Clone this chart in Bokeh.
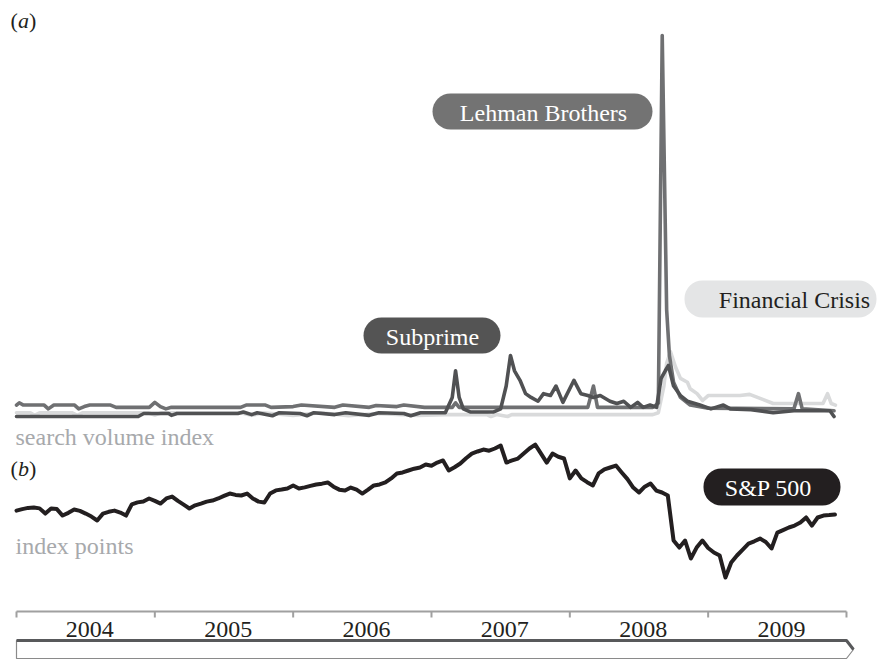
import numpy as np
from bokeh.plotting import figure
from bokeh.models import Range1d
from bokeh.core.properties import value
from bokeh.embed import file_html
from bokeh.resources import INLINE

# ---------------------------------------------------------------- data
# Weekly search volume index (Google), sampled at the dates where the trace changes
lehman_t = [2004.00, 2004.02, 2004.05, 2004.20, 2004.23, 2004.27, 2004.42, 2004.45, 2004.49,
            2004.53, 2004.68, 2004.72, 2004.96, 2005.00, 2005.04, 2005.08, 2005.12, 2005.62,
            2005.66, 2005.80, 2005.84, 2006.00, 2006.06, 2006.30, 2006.36, 2006.55, 2006.60,
            2006.75, 2006.80, 2006.95, 2007.15, 2007.174, 2007.20, 2008.13, 2008.171, 2008.20,
            2008.60, 2008.64, 2008.668, 2008.70, 2008.72, 2008.75, 2008.80, 2008.87, 2009.00,
            2009.62, 2009.653, 2009.68, 2009.91]
lehman_v = [3.0, 3.6, 3.0, 3.0, 2.0, 3.0, 3.0, 2.0, 2.6,
            3.0, 3.0, 2.4, 2.4, 3.7, 2.6, 2.0, 2.4, 2.4,
            3.0, 3.0, 2.4, 2.6, 3.0, 2.4, 3.0, 2.4, 2.9,
            2.6, 3.0, 2.4, 2.4, 3.6, 2.4, 2.4, 8.0, 2.4,
            2.4, 3.5, 100.0, 28.0, 16.0, 9.0, 5.0, 3.0, 2.2,
            2.0, 6.0, 2.0, 1.5]

subprime_t = [2004.00, 2004.88, 2004.92, 2005.10, 2005.12, 2005.16, 2005.60, 2005.64, 2005.70,
              2005.74, 2005.85, 2005.90, 2006.05, 2006.10, 2006.15, 2006.30, 2006.38, 2006.55,
              2006.62, 2006.80, 2006.85, 2006.92, 2007.10, 2007.15, 2007.174, 2007.20, 2007.23,
              2007.28, 2007.45, 2007.50, 2007.54, 2007.571, 2007.60, 2007.64, 2007.68, 2007.72,
              2007.77, 2007.81, 2007.86, 2007.90, 2007.95, 2008.03, 2008.08, 2008.13, 2008.17,
              2008.22, 2008.29, 2008.34, 2008.39, 2008.44, 2008.49, 2008.53, 2008.58, 2008.627,
              2008.66, 2008.69, 2008.713, 2008.75, 2008.80, 2008.85, 2008.94, 2009.02, 2009.11,
              2009.16, 2009.31, 2009.47, 2009.62, 2009.88, 2009.91]
subprime_v = [0.0, 0.0, 0.8, 0.8, 0.3, 0.8, 0.8, 1.2, 0.5,
              1.0, 0.2, 1.0, 0.8, 0.2, 1.0, 0.5, 1.0, 0.3,
              1.0, 0.8, 0.2, 1.0, 1.0, 5.0, 12.0, 5.0, 2.0,
              1.2, 1.2, 2.0, 8.0, 16.0, 12.0, 9.5, 6.0, 5.0,
              4.0, 6.0, 5.5, 8.0, 3.7, 9.5, 6.0, 5.5, 5.0,
              5.5, 4.0, 3.4, 4.0, 2.4, 3.7, 2.4, 3.0, 2.4,
              10.0, 12.0, 13.4, 8.0, 5.5, 4.0, 3.0, 2.0, 3.0,
              2.0, 1.8, 1.0, 1.5, 1.5, 0.0]

crisis_t = [2004.00, 2004.10, 2004.13, 2004.17, 2004.40, 2004.44, 2004.48, 2004.95, 2005.00,
            2005.05, 2005.62, 2005.70, 2005.78, 2006.00, 2006.20, 2006.40, 2006.60, 2006.90,
            2007.10, 2007.40, 2007.43, 2007.47, 2007.55, 2007.58, 2008.60, 2008.64, 2008.68,
            2008.70, 2008.728, 2008.764, 2008.80, 2008.85, 2008.87, 2008.92, 2008.96, 2009.00,
            2009.23, 2009.30, 2009.38, 2009.47, 2009.83, 2009.863, 2009.89, 2009.92]
crisis_v = [1.0, 1.0, 0.3, 1.0, 1.0, 0.3, 1.0, 1.0, 0.4,
            1.0, 1.0, 0.3, 1.0, 0.3, 1.0, 0.2, 0.8, 0.3,
            0.5, 0.5, 0.0, 0.5, 0.0, 0.5, 0.5, 1.0, 8.0,
            14.0, 17.0, 13.0, 10.0, 9.0, 7.3, 6.0, 4.2, 5.5,
            5.5, 5.8, 4.7, 3.4, 3.4, 6.0, 3.4, 3.0]

# S&P 500 closes, twice a month from January 2004
spx_v = [1130, 1140, 1148, 1151, 1145, 1110, 1144, 1140, 1097, 1115, 1137, 1128,
         1110, 1090, 1064, 1110, 1122, 1130, 1117, 1097, 1172, 1185, 1191, 1211,
         1195, 1177, 1211, 1224, 1195, 1170, 1144, 1165, 1177, 1190, 1197, 1211,
         1228, 1244, 1235, 1231, 1244, 1211, 1190, 1184, 1244, 1265, 1271, 1278,
         1298, 1278, 1285, 1295, 1304, 1310, 1318, 1290, 1270, 1264, 1284, 1270,
         1244, 1270, 1298, 1305, 1318, 1345, 1378, 1385, 1398, 1410, 1418, 1438,
         1430, 1451, 1465, 1398, 1420, 1445, 1480, 1511, 1525, 1538, 1530, 1545,
         1565, 1451, 1465, 1478, 1511, 1545, 1571, 1511, 1451, 1511, 1490, 1478,
         1345, 1398, 1345, 1320, 1298, 1378, 1405, 1418, 1431, 1385, 1340, 1284,
         1251, 1290, 1311, 1264, 1251, 1231, 930, 883, 930, 810, 883, 930,
         880, 850, 830, 683, 783, 830, 870, 910, 925, 943, 920, 877,
         983, 1000, 1017, 1030, 1050, 1084, 1030, 1084, 1097, 1100, 1104]
spx_t = 2004 + np.arange(len(spx_v)) / 24.0

years = [2004, 2005, 2006, 2007, 2008, 2009]
year_edges = years + [2010]

# ---------------------------------------------------------------- layout
W, H = 896, 659
X0, PX_PER_YEAR = 16, 138.33          # pixel of 1 Jan 2004, pixels per year


def pixel_range(v_a, y_a, v_b, y_b):
    """Value range whose v_a sits at pixel row y_a and v_b at row y_b."""
    per_px = (v_b - v_a) / (y_a - y_b)
    return Range1d(v_a - (H - y_a) * per_px, v_a + y_a * per_px)


p = figure(width=W, height=H, output_backend="svg", toolbar_location=None,
           x_range=Range1d(0, W), y_range=Range1d(H, 0),
           x_axis_location=None, y_axis_location=None, min_border=0)
p.grid.visible = False
p.outline_line_color = None
p.background_fill_color = "white"
p.border_fill_color = "white"

p.extra_x_ranges = {"yr": Range1d(2004 - X0 / PX_PER_YEAR, 2004 + (W - X0) / PX_PER_YEAR)}
p.extra_y_ranges = {"svi": pixel_range(0, 416, 100, 35),
                    "spx": pixel_range(1565, 445, 683, 577)}

SERIF = value("Liberation Serif")

# ---------------------------------------------------------------- (a) search volume
line_kw = dict(x_range_name="yr", y_range_name="svi", line_width=3.6,
               line_join="round", line_cap="round")
p.line(crisis_t, crisis_v, line_color="#d9dadb", **line_kw)
p.line(lehman_t, lehman_v, line_color="#6f7072", **line_kw)
p.line(subprime_t, subprime_v, line_color="#505153", **line_kw)

# ---------------------------------------------------------------- (b) S&P 500
p.line(spx_t, spx_v, x_range_name="yr", y_range_name="spx", line_color="#231f20",
       line_width=4, line_join="round", line_cap="round")

# ---------------------------------------------------------------- pill labels
pills = [
    # left, right, top, bottom, text centre x, fill, text colour, label
    (432, 652, 93, 129, 543, "#737373", "white", "Lehman Brothers"),
    (363, 500, 317, 353, 432, "#545454", "white", "Subprime"),
    (684, 876, 280, 317, 794, "#e4e5e6", "#231f20", "Financial Crisis"),
    (703, 840, 468, 505, 768, "#231f20", "white", "S&P 500"),
]
for l, r, t, b, tx, fill, tc, label in pills:
    p.quad(left=[l], right=[r], top=[t], bottom=[b], fill_color=fill,
           line_color=None, border_radius=int((b - t) // 2))
    p.text(x=[tx], y=[(t + b) / 2 + 1], text=[label], text_font=SERIF,
           text_font_size="24px", text_color=tc, text_align="center",
           text_baseline="middle")

# ---------------------------------------------------------------- panel captions
cap = dict(text_font=SERIF, text_font_size="22px", text_baseline="middle",
           text_align="left", text_color="#231f20")
for y0, letter in ((20, "a"), (468, "b")):
    p.text(x=[10], y=[y0], text=["("], **cap)
    p.text(x=[17.5], y=[y0], text=[letter], text_font_style="italic", **cap)
    p.text(x=[28.5], y=[y0], text=[")"], **cap)

sub = dict(text_font=SERIF, text_font_size="24px", text_baseline="middle",
           text_align="left", text_color="#a7a9ac")
p.text(x=[15], y=[436], text=["search volume index"], **sub)
p.text(x=[15], y=[545], text=["index points"], **sub)

# ---------------------------------------------------------------- time line
p.segment(x0=[year_edges[0]], x1=[year_edges[-1]], y0=[611], y1=[611],
          x_range_name="yr", line_color="#a0a0a0", line_width=2)
p.segment(x0=year_edges, x1=year_edges, y0=[611] * len(year_edges),
          y1=[617] * len(year_edges), x_range_name="yr", line_color="#a0a0a0",
          line_width=2)
p.text(x=[yv + 0.53 for yv in years], y=[629] * len(years), text=[str(yv) for yv in years],
       x_range_name="yr", text_font=SERIF, text_font_size="24px", text_color="#231f20",
       text_align="center", text_baseline="middle")

tip = 7 / PX_PER_YEAR
p.patch(x=[2004, 2010, 2010 + tip, 2010, 2004], y=[640, 640, 649, 658, 658],
        x_range_name="yr", fill_color="white", line_color="#8a8a8a", line_width=1.2)
p.line(x=[2004, 2010, 2010 + tip], y=[640, 640, 649], x_range_name="yr",
       line_color="#58595b", line_width=3)

open("out.html", "w").write(file_html(p, INLINE))
